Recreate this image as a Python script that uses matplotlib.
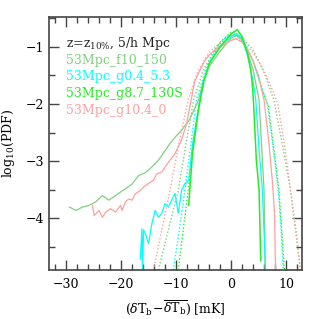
import matplotlib
matplotlib.use('Agg')
import matplotlib.pyplot as plt
from matplotlib.ticker import MultipleLocator

plt.rcParams['font.family'] = ['DejaVu Serif']
plt.rcParams['mathtext.fontset'] = 'dejavuserif'

# 53Mpc_f10_150 (light green)
f10_x = [-29.4, -28.2, -27.0, -25.8, -24.6, -23.4, -22.2, -21.0, -19.2, -18.0, -16.8, -15.6,
         -14.4, -13.2, -12.6, -11.1, -9.9, -9.0, -7.6, -6.0, -5.0, -4.0, -2.0, 0.0, 1.0, 2.0,
         3.0, 4.0, 5.1, 5.6, 6.0, 6.2]
f10_y = [-3.80, -3.86, -3.80, -3.77, -3.71, -3.60, -3.68, -3.60, -3.48, -3.40, -3.25, -3.20,
         -3.10, -2.98, -2.90, -2.69, -2.55, -2.46, -2.28, -1.95, -1.60, -1.35, -1.08, -0.85, -0.80, -0.88,
         -1.10, -1.40, -1.93, -2.80, -3.51, -4.95]
f10_fit_x = [-13.2, -11.4, -9.6, -8.2, -6.8, -5.0, -3.0, -1.0, 0.5, 2.0, 4.0, 6.0, 7.8, 9.5, 10.8, 11.8, 12.6]
f10_fit_y = [-4.9, -4.2, -3.51, -2.7, -1.93, -1.4, -1.05, -0.85, -0.8, -0.85, -1.05, -1.45, -1.93, -2.8, -3.5, -4.2, -4.9]

# 53Mpc_g0.4_5.3 (cyan)
g04_x = [-16.5, -16.2, -16.1, -15.9, -15.6, -15.0, -14.4, -13.8, -13.2, -12.6, -12.0, -11.4,
         -10.8, -10.2, -9.6, -9.0, -8.4, -7.7, -7.0, -6.0, -5.0, -4.0, -2.0, 0.0, 1.0, 2.0,
         3.0, 4.0, 4.5, 5.1, 5.7, 6.3]
g04_y = [-4.71, -4.18, -4.95, -4.20, -4.26, -4.44, -4.09, -3.86, -3.98, -3.91, -3.74, -3.80,
         -3.68, -3.56, -3.91, -3.51, -3.39, -3.33, -2.70, -2.10, -1.60, -1.30, -1.00, -0.82, -0.77, -0.85,
         -1.15, -1.60, -1.93, -2.80, -3.51, -4.95]
g04_fit_x = [-10.5, -9.4, -8.4, -7.3, -6.3, -4.5, -2.5, -0.5, 1.0, 2.5, 4.0, 5.5, 6.6, 7.7, 8.6, 9.1, 9.5]
g04_fit_y = [-4.9, -4.2, -3.51, -2.7, -1.93, -1.35, -0.98, -0.8, -0.8, -0.95, -1.25, -1.7, -2.0, -2.8, -3.5, -4.2, -4.9]

# 53Mpc_g8.7_130S (bright green)
g87_x = [-7.7, -7.0, -6.0, -5.0, -4.0, -2.0, 0.0, 1.1, 2.0, 3.0, 3.6, 3.9, 4.1, 4.6, 5.1, 5.4]
g87_y = [-3.77, -2.85, -2.15, -1.62, -1.30, -1.00, -0.78, -0.70, -0.82, -1.12, -1.41, -1.70, -2.00, -2.98, -3.51, -4.74]
g87_fit_x = [-9.6, -8.7, -7.8, -6.8, -5.7, -4.0, -2.0, 0.0, 0.5, 2.0, 4.0, 5.7, 6.8, 7.8, 8.7, 9.2, 9.7]
g87_fit_y = [-4.9, -4.2, -3.51, -2.7, -1.93, -1.3, -0.92, -0.75, -0.74, -0.85, -1.25, -1.75, -2.05, -2.8, -3.5, -4.2, -4.9]

# 53Mpc_g10.4_0 (pink)
g104_x = [-25.2, -24.9, -24.0, -23.4, -22.8, -21.9, -21.0, -20.1, -19.8, -19.2, -18.6, -18.0,
          -17.4, -16.5, -15.9, -15.0, -14.1, -13.5, -12.6, -12.0, -11.1, -10.2, -9.0, -8.1,
          -7.3, -6.6, -5.5, -4.8, -4.0, -3.0, -2.0, 0.0, 0.9, 2.0, 3.0, 4.0, 5.0, 6.0, 6.8, 7.5, 7.9, 8.1]
g104_y = [-3.77, -3.95, -3.86, -3.98, -3.89, -3.83, -3.89, -3.77, -3.86, -3.71, -3.66, -3.68,
          -3.57, -3.51, -3.45, -3.39, -3.33, -3.22, -3.19, -3.10, -2.98, -2.87, -2.63, -2.35,
          -1.95, -1.60, -1.38, -1.25, -1.15, -1.06, -1.00, -0.89, -0.86, -0.92, -1.05, -1.25, -1.50, -1.93, -2.60, -3.33, -3.90, -4.95]
g104_fit_x = [-14.1, -12.6, -11.1, -9.5, -7.8, -6.0, -4.0, -2.0, 0.0, 1.0, 2.0, 4.0, 6.0, 7.5, 8.5, 9.7, 10.8, 11.7, 12.6]
g104_fit_y = [-4.9, -4.2, -3.51, -2.7, -1.93, -1.42, -1.1, -0.93, -0.87, -0.86, -0.9, -1.1, -1.42, -1.75, -2.0, -2.7, -3.5, -4.2, -4.9]

c_f10 = '#80d080'
c_g04 = '#00ffff'
c_g87 = '#22ee22'
c_g104 = '#ffa0a0'

fig = plt.figure(figsize=(3.19, 3.19), dpi=100)
ax = fig.add_axes([49 / 319, 49 / 319, 253 / 319, 253 / 319])

ax.plot(f10_fit_x, f10_fit_y, color=c_f10, lw=1, ls=(0, (1, 1.5)))
ax.plot(g04_fit_x, g04_fit_y, color=c_g04, lw=1, ls=(0, (1, 1.5)))
ax.plot(g87_fit_x, g87_fit_y, color=c_g87, lw=1, ls=(0, (1, 1.5)))
ax.plot(g104_fit_x, g104_fit_y, color=c_g104, lw=1, ls=(0, (1, 1.5)))

ax.plot(f10_x, f10_y, color=c_f10, lw=0.9)
ax.plot(g104_x, g104_y, color=c_g104, lw=0.9)
ax.plot(g04_x, g04_y, color=c_g04, lw=0.9)
ax.plot(g87_x, g87_y, color=c_g87, lw=1.1)

ax.set_xlim(-33.1, 12.9)
ax.set_ylim(-4.9, -0.48)
ax.xaxis.set_major_locator(MultipleLocator(10))
ax.xaxis.set_minor_locator(MultipleLocator(2))
ax.yaxis.set_major_locator(MultipleLocator(1))
ax.yaxis.set_minor_locator(MultipleLocator(0.5))
ax.tick_params(which='both', direction='in', top=True, right=True, color='#444444', labelsize=9)
ax.tick_params(which='major', length=7, width=1)
ax.tick_params(which='minor', length=4, width=1)
ax.tick_params(axis='x', pad=6)
for s in ax.spines.values():
    s.set_color('#444444')
    s.set_linewidth(1.2)

ax.set_xlabel(r'$(\delta\mathrm{T_b}\!-\!\overline{\delta\mathrm{T_b}})$ [mK]', fontsize=9, labelpad=5)
ax.set_ylabel(r'log$_{10}$(PDF)', fontsize=9, labelpad=6)

labels = [r'z=z$_{10\%}$, 5/h Mpc', '53Mpc_f10_150', '53Mpc_g0.4_5.3', '53Mpc_g8.7_130S', '53Mpc_g10.4_0']
colors = ['#222222', c_f10, c_g04, c_g87, c_g104]
for i, (t, c) in enumerate(zip(labels, colors)):
    ax.text(0.067, 0.897 - i * 0.067, t, color=c, fontsize=9, transform=ax.transAxes,
            va='center', ha='left')

fig.savefig('out.png', dpi=100)
